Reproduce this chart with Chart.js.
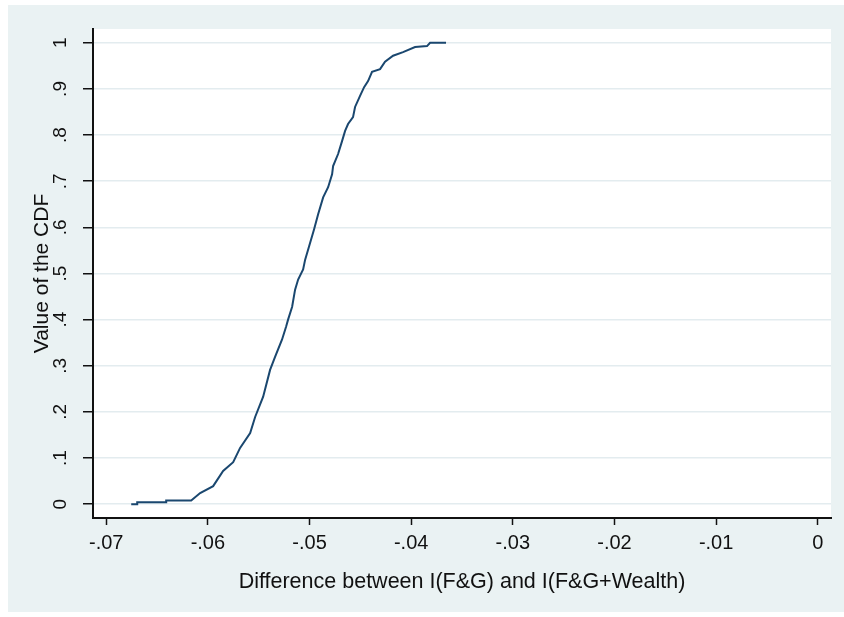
<!DOCTYPE html>
<html>
<head>
<meta charset="utf-8">
<script src="https://cdn.jsdelivr.net/npm/chart.js@4"></script>
<style>
  html, body { margin: 0; padding: 0; background: #fff; }
  canvas { display: block; }
</style>
</head>
<body>
<canvas id="cdfChart" width="844" height="617"></canvas>
<script>
const cdfX = [-0.06754, -0.06695, -0.06695, -0.06410, -0.06410, -0.06164, -0.06076, -0.05948,
  -0.05850, -0.05751, -0.05683, -0.05584, -0.05535, -0.05456, -0.05388, -0.05338, -0.05270,
  -0.05230, -0.05211, -0.05171, -0.05142, -0.05112, -0.05063, -0.05043, -0.05004, -0.04955,
  -0.04916, -0.04866, -0.04817, -0.04778, -0.04768, -0.04719, -0.04680, -0.04650, -0.04621,
  -0.04572, -0.04552, -0.04503, -0.04463, -0.04424, -0.04385, -0.04306, -0.04257, -0.04178,
  -0.04080, -0.03962, -0.03844, -0.03814, -0.03657];
const cdfY = [0, 0, 0.004, 0.004, 0.008, 0.008, 0.024, 0.039,
  0.072, 0.091, 0.122, 0.154, 0.189, 0.233, 0.291, 0.320, 0.357,
  0.385, 0.400, 0.428, 0.465, 0.487, 0.509, 0.530, 0.559, 0.596,
  0.628, 0.665, 0.687, 0.715, 0.733, 0.759, 0.787, 0.809, 0.824,
  0.839, 0.861, 0.885, 0.904, 0.917, 0.937, 0.943, 0.959, 0.972,
  0.980, 0.991, 0.993, 1.0, 1.0];

const xTicks = [-0.07, -0.06, -0.05, -0.04, -0.03, -0.02, -0.01, 0];
const xTickLabels = ["-.07", "-.06", "-.05", "-.04", "-.03", "-.02", "-.01", "0"];
const yTicks = [0, 0.1, 0.2, 0.3, 0.4, 0.5, 0.6, 0.7, 0.8, 0.9, 1];
const yTickLabels = ["0", ".1", ".2", ".3", ".4", ".5", ".6", ".7", ".8", ".9", "1"];

const FONT = "'Liberation Sans', Arial, sans-serif";
const BG = "#EAF2F3";

// -------------------------------
// background + rotated y tick labels
// -------------------------------
const stataLook = {
  id: "stataLook",
  beforeDraw(chart) {
    const { ctx, chartArea: a } = chart;
    ctx.save();
    ctx.fillStyle = "#fff";
    ctx.fillRect(0, 0, chart.width, chart.height);
    ctx.fillStyle = BG;
    ctx.fillRect(8, 5, chart.width - 8, chart.height - 10);
    ctx.fillStyle = "#fff";
    ctx.fillRect(a.left, a.top, a.right - a.left, a.bottom - a.top);
    ctx.restore();
  },
  afterDraw(chart) {
    const { ctx } = chart;
    const ys = chart.scales.y;
    ctx.save();
    ctx.fillStyle = "#111";
    ctx.font = "19px " + FONT;
    ctx.textAlign = "center";
    ctx.textBaseline = "middle";
    yTicks.forEach((v, i) => {
      ctx.save();
      ctx.translate(61, ys.getPixelForValue(v));
      ctx.rotate(-Math.PI / 2);
      ctx.fillText(yTickLabels[i], 0, 0);
      ctx.restore();
    });
    ctx.restore();
  }
};

new Chart(document.getElementById("cdfChart"), {
  type: "line",
  data: {
    datasets: [{
      data: cdfX.map((x, i) => ({ x: x, y: cdfY[i] })),
      borderColor: "#1A476F",
      borderWidth: 2,
      pointRadius: 0,
      tension: 0,
      fill: false
    }]
  },
  options: {
    responsive: false,
    animation: false,
    devicePixelRatio: 1,
    layout: { padding: { left: 8, top: 29, right: 13, bottom: 5 } },
    plugins: { legend: { display: false }, tooltip: { enabled: false } },
    scales: {
      x: {
        type: "linear",
        min: -0.0713,
        max: 0.0013,
        afterBuildTicks: s => { s.ticks = xTicks.map(v => ({ value: v })); },
        afterFit: s => { s.height = 94; },
        grid: { drawOnChartArea: false, tickColor: "#111", tickLength: 7, tickWidth: 1.5 },
        border: { color: "#111", width: 2 },
        ticks: {
          color: "#111",
          font: { family: FONT, size: 20 },
          padding: 6,
          maxRotation: 0,
          callback: (v, i) => xTickLabels[i]
        },
        title: {
          display: true,
          text: "Difference between I(F&G) and I(F&G+Wealth)",
          color: "#111",
          font: { family: FONT, size: 21.5 },
          padding: { top: 0, bottom: 17 }
        }
      },
      y: {
        type: "linear",
        min: -0.03,
        max: 1.03,
        afterBuildTicks: s => { s.ticks = yTicks.map(v => ({ value: v })); },
        afterFit: s => { s.width = 85; },
        grid: { color: "#E3ECEF", lineWidth: 1.5, tickColor: "#111", tickLength: 10, tickWidth: 1.5 },
        border: { color: "#111", width: 2 },
        ticks: { display: false },
        title: {
          display: true,
          text: "Value of the CDF",
          color: "#111",
          font: { family: FONT, size: 21 },
          padding: { top: 22, bottom: 0 }
        }
      }
    }
  },
  plugins: [stataLook]
});
</script>
</body>
</html>
